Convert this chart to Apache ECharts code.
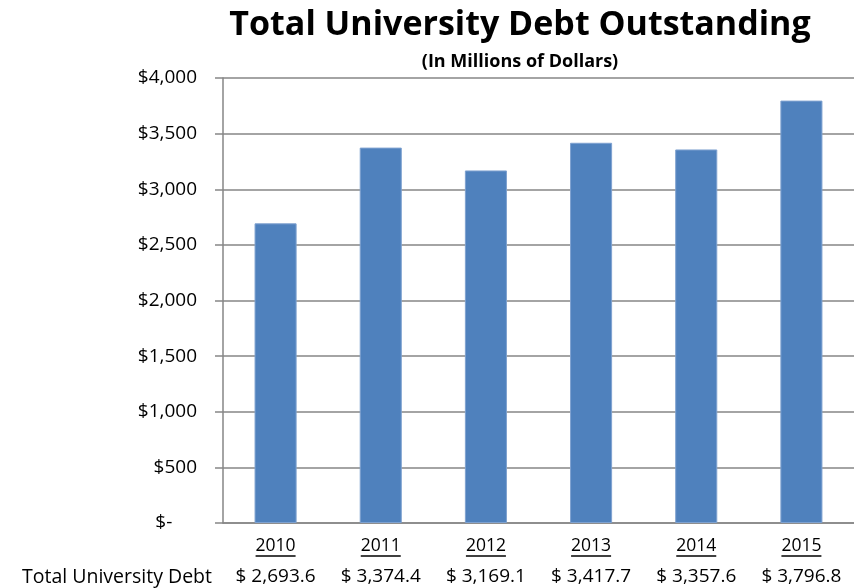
<!DOCTYPE html>
<html><head><meta charset="utf-8">
<script src="https://cdn.jsdelivr.net/npm/echarts@6/dist/echarts.min.js"></script>
<style>html,body{margin:0;padding:0;background:#fff}#c{width:854px;height:588px}</style>
</head><body><div id="c"></div>
<script>
const categories = ['2010','2011','2012','2013','2014','2015'];
const debtValues = [2693.6, 3374.4, 3169.1, 3417.7, 3357.6, 3796.8];
const yTicks = [0, 500, 1000, 1500, 2000, 2500, 3000, 3500, 4000];
const seriesName = 'Total University Debt';

const FONT = 'Open Sans';
function fmtMoney(v){ return '$ ' + v.toLocaleString('en-US',{minimumFractionDigits:1,maximumFractionDigits:1}); }
const chart = echarts.init(document.getElementById('c'));
chart.setOption({
  animation:false,
  textStyle:{fontFamily:FONT},
  title:[
    {text:'Total University Debt Outstanding', left:515, top:3, textAlign:'center',
     textStyle:{fontFamily:FONT, fontWeight:'bold', fontSize:34, color:'#000'}},
    {text:'(In Millions of Dollars)', left:515, top:48, textAlign:'center',
     textStyle:{fontFamily:FONT, fontWeight:'bold', fontSize:18, color:'#000'}},
    {text:seriesName, left:17, top:562,
     textStyle:{fontFamily:FONT, fontWeight:'normal', fontSize:19.5, color:'#000'}}
  ],
  grid:{left:223, right:-5, top:78, bottom:65, containLabel:false},
  xAxis:[{
    type:'category', data:categories, position:'bottom',
    axisLine:{show:true, lineStyle:{color:'#868686', width:1.5}},
    axisTick:{show:false},
    axisLabel:{margin:14, formatter:v=>'{y|'+v+'}\n{u|}',
      rich:{y:{fontFamily:FONT, fontSize:17.5, color:'#000', lineHeight:18},
            u:{width:40, height:1.5, backgroundColor:'#000', lineHeight:2}}}
  },{
    type:'category', data:debtValues, position:'bottom', offset:32,
    axisLine:{show:false}, axisTick:{show:false},
    axisLabel:{margin:12, fontFamily:FONT, fontSize:19, color:'#000', formatter:v=>fmtMoney(Number(v))}
  }],
  yAxis:{
    type:'value', min:0, max:4000, interval:500,
    axisLine:{show:true, lineStyle:{color:'#868686', width:1.5}},
    axisTick:{show:true, length:8, lineStyle:{color:'#868686', width:1.5}},
    splitLine:{show:true, lineStyle:{color:'#868686', width:1.5}},
    axisLabel:{margin:26, fontFamily:FONT, fontSize:19, color:'#000',
      formatter:v=> v===0 ? '$-     ' : '$'+v.toLocaleString('en-US')}
  },
  series:[{
    name:seriesName, type:'bar', data:debtValues, barWidth:'40%',
    itemStyle:{color:'#4F81BD', borderColor:'#7FA2D0', borderWidth:1}
  }]
});
</script></body></html>
